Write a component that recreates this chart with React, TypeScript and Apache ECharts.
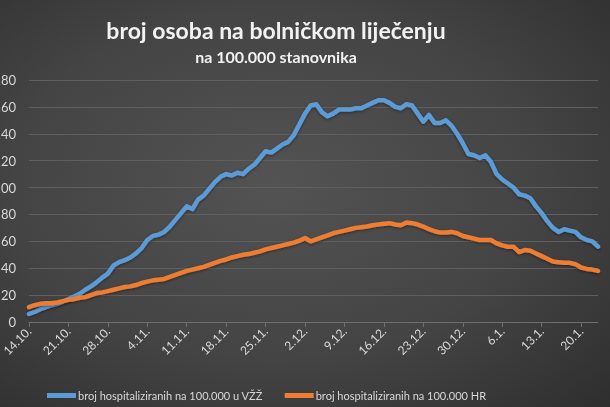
import React, { useEffect, useRef } from "react";
import * as echarts from "echarts";

const START_DAY = Date.UTC(2020, 9, 14);
const DAY_COUNT = 102;
const categories: string[] = Array.from({ length: DAY_COUNT }, (_, i) => {
  const d = new Date(START_DAY + i * 86400000);
  return `${d.getUTCDate()}.${d.getUTCMonth() + 1}.`;
});

const vzzValues = [
  6, 7.5, 9.5, 11, 12.5, 13.5, 15, 17, 19, 21,
  24, 26.5, 29.5, 33, 36, 42, 44.5, 46, 48, 51,
  55, 61, 64, 65, 67, 71, 76, 81, 86, 84,
  91, 94, 99, 104, 108, 110, 109, 111, 110, 114,
  117, 122, 127, 126, 129, 132, 134, 139, 147, 155,
  161, 162, 156, 153, 155, 158, 158, 158, 159, 159,
  161, 163, 165, 165, 163, 160, 159, 162, 161, 155,
  149, 154, 148, 148, 150, 146, 140, 133, 125, 124,
  122, 124, 119, 110, 106, 103, 100, 95, 94, 92,
  86, 81, 75, 70, 67, 69, 68, 67, 63, 61,
  60, 56,
];

const hrValues = [
  11, 12.5, 13.5, 14, 14, 14.5, 15.5, 16.5, 17, 18,
  18.5, 20, 21.5, 22, 23, 24, 25, 26, 26.5, 27.5,
  29, 30, 31, 31.5, 32, 33.5, 35, 36.5, 38, 39,
  40, 41, 42.5, 44, 45.5, 46.5, 48, 49, 50, 50.5,
  51.5, 52.5, 54, 55, 56, 57, 58, 59, 60.5, 62.5,
  60, 61.5, 63, 64.5, 66, 67, 68, 69, 70, 70.5,
  71, 72, 72.5, 73, 73.5, 72.5, 72, 74, 73.5, 72.5,
  71, 69, 67.5, 66.5, 66.5, 67, 66, 64, 63, 62,
  61, 61, 61, 58.5, 57, 56, 56, 52, 53.5, 53,
  51, 49, 47, 45, 44.5, 44, 44, 43, 40.5, 39.5,
  39, 38,
];

const yTicks = [0, 20, 40, 60, 80, 100, 120, 140, 160, 180];

const titleText = "broj osoba na bolničkom liječenju";
const subtitleText = "na 100.000 stanovnika";
const seriesNames = [
  "broj hospitaliziranih na 100.000 u VŽŽ",
  "broj hospitaliziranih na 100.000 HR",
];

const FONT = "Lato, 'Noto Sans', sans-serif";

export default function App() {
  const ref = useRef<HTMLDivElement>(null);
  useEffect(() => {
    if (!ref.current) return;
    const chart = echarts.init(ref.current, null, { renderer: "svg" });
    chart.setOption({
      animation: false,
      backgroundColor: "transparent",
      textStyle: { fontFamily: FONT },
      graphic: [
        {
          type: "text",
          x: 276,
          y: 30,
          style: {
            text: titleText,
            fill: "#f2f2f2",
            font: `bold 23px ${FONT}`,
            align: "center",
            verticalAlign: "middle",
            shadowColor: "rgba(0,0,0,0.6)",
            shadowBlur: 3,
            shadowOffsetX: 1,
            shadowOffsetY: 1,
          },
        },
        {
          type: "text",
          x: 276,
          y: 56,
          style: {
            text: subtitleText,
            fill: "#f2f2f2",
            font: `bold 16px ${FONT}`,
            align: "center",
            verticalAlign: "middle",
          },
        },
      ],
      grid: {
        left: 29,
        right: 12,
        top: 80,
        bottom: 85,
        containLabel: false,
        outerBoundsMode: "none",
      },
      legend: {
        left: 42,
        top: 385,
        itemWidth: 29,
        itemHeight: 5,
        itemGap: 22,
        icon: "rect",
        textStyle: { color: "#d9d9d9", fontSize: 11, padding: [0, 0, 0, -3] },
        data: seriesNames,
      },
      xAxis: {
        type: "category",
        data: categories,
        boundaryGap: false,
        axisLine: { lineStyle: { color: "#6e6e6e", width: 1 } },
        axisTick: { interval: 6, length: 5, lineStyle: { color: "#6e6e6e" } },
        axisLabel: {
          interval: 6,
          rotate: 45,
          color: "#d9d9d9",
          fontSize: 12,
          margin: 7,
        },
        splitLine: { show: false },
      },
      yAxis: {
        type: "value",
        min: yTicks[0],
        max: yTicks[yTicks.length - 1],
        interval: 20,
        axisLine: { show: false },
        axisTick: { show: false },
        axisLabel: { color: "#d9d9d9", fontSize: 13, margin: 13 },
        splitLine: { lineStyle: { color: "#5f5f5f", width: 1 } },
      },
      series: [
        {
          name: seriesNames[0],
          type: "line",
          data: vzzValues,
          showSymbol: false,
          symbol: "none",
          color: "#5b9bd5",
          lineStyle: {
            width: 4.5,
            color: "#5b9bd5",
            cap: "round",
            join: "round",
            shadowColor: "rgba(0,0,0,0.45)",
            shadowBlur: 3,
            shadowOffsetY: 1,
          },
        },
        {
          name: seriesNames[1],
          type: "line",
          data: hrValues,
          showSymbol: false,
          symbol: "none",
          color: "#ed7d31",
          lineStyle: {
            width: 4.5,
            color: "#ed7d31",
            cap: "round",
            join: "round",
            shadowColor: "rgba(0,0,0,0.45)",
            shadowBlur: 3,
            shadowOffsetY: 1,
          },
        },
      ],
    });
    return () => chart.dispose();
  }, []);
  return (
    <div
      ref={ref}
      style={{
        position: "fixed",
        left: 0,
        top: 0,
        width: 610,
        height: 407,
        background:
          "radial-gradient(ellipse at 45% 45%, #535353 0%, #444444 55%, #2e2e2e 100%)",
      }}
    />
  );
}
